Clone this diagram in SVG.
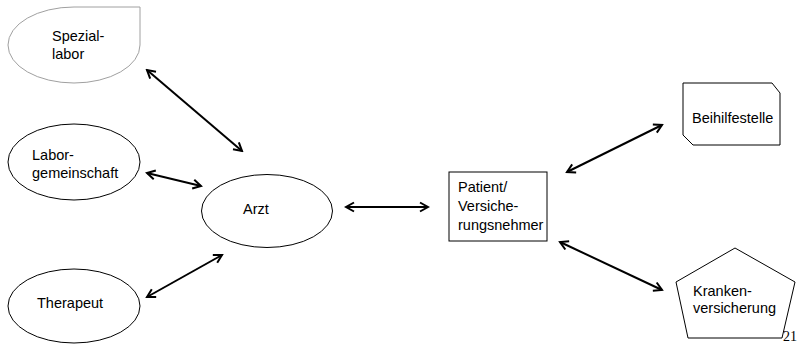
<svg xmlns="http://www.w3.org/2000/svg" width="799" height="344" viewBox="0 0 799 344">
<style>
  text { font-family: "Liberation Sans", Arial, sans-serif; font-size: 14.5px; fill: #000; }
  .shape { fill: #fff; stroke: #000; stroke-width: 1; }
  .gray { stroke: #a0a0a0; }
  .conn { stroke: #000; stroke-width: 2; fill: none; marker-start: url(#ah); marker-end: url(#ah); }
  .num { font-family: "Liberation Serif", "Times New Roman", serif; font-size: 14px; }
</style>
<defs>
  <marker id="ah" markerUnits="userSpaceOnUse" viewBox="0 0 12 12" refX="10" refY="6" markerWidth="12" markerHeight="12" orient="auto-start-reverse">
    <path d="M2,1.5 L10,6 L2,10.5" fill="none" stroke="#000" stroke-width="2"/>
  </marker>
</defs>
<rect width="799" height="344" fill="#fff"/>
<g id="spezial-labor">
  <path class="shape gray" d="M140,7 L140,45 A66,38 0 0 1 74,83 A66,38 0 0 1 8,45 A66,38 0 0 1 74,7 Z"/>
  <text x="52" y="41">Spezial-</text>
  <text x="52" y="59">labor</text>
</g>
<g id="laborgemeinschaft">
  <ellipse class="shape" cx="74" cy="162" rx="66" ry="38"/>
  <text x="32" y="160">Labor-</text>
  <text x="32" y="178">gemeinschaft</text>
</g>
<g id="therapeut">
  <ellipse class="shape" cx="74" cy="306" rx="66" ry="37"/>
  <text x="37" y="308">Therapeut</text>
</g>
<g id="arzt">
  <ellipse class="shape" cx="267" cy="211" rx="65.5" ry="36.5"/>
  <text x="243" y="214">Arzt</text>
</g>
<g id="patient">
  <rect class="shape" x="449" y="172" width="98" height="69"/>
  <text x="458" y="192">Patient/</text>
  <text x="458" y="211">Versiche-</text>
  <text x="458" y="230">rungsnehmer</text>
</g>
<g id="beihilfestelle">
  <path class="shape" d="M683,83 L772,83 L780,93 L780,145 L693,145 L683,135 Z"/>
  <text x="692" y="123">Beihilfestelle</text>
</g>
<g id="krankenversicherung">
  <path class="shape" d="M735,248 L795,282 L782,338 L688,338 L676,282 Z"/>
  <text x="693" y="296">Kranken-</text>
  <text x="693" y="313">versicherung</text>
</g>
<g id="connectors">
  <line class="conn" x1="147" y1="70" x2="242" y2="151"/>
  <line class="conn" x1="147" y1="173" x2="201" y2="186"/>
  <line class="conn" x1="147" y1="297" x2="222" y2="255"/>
  <line class="conn" x1="346" y1="207" x2="428" y2="207"/>
  <line class="conn" x1="567" y1="172" x2="662" y2="125"/>
  <line class="conn" x1="560" y1="242" x2="662" y2="290"/>
</g>
<text class="num" x="783" y="341">21</text>
</svg>
